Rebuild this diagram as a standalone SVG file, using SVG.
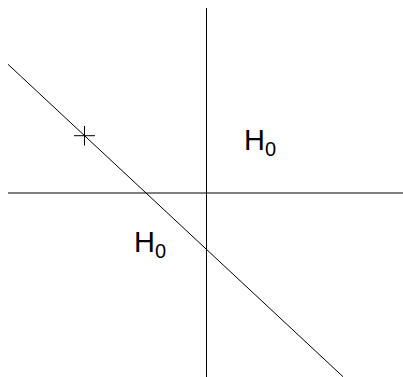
<svg xmlns="http://www.w3.org/2000/svg" width="403" height="377" viewBox="0 0 403 377">
<style>
.ln{stroke:#000;stroke-width:1;fill:none}
.lbl{font-family:"Liberation Sans",Arial,sans-serif;fill:#000}
.h{font-size:29px}
.s{font-size:20px}
</style>
<rect width="403" height="377" fill="#fff"/>
<g id="connectors">
<line class="ln" x1="206.5" y1="8" x2="206.5" y2="377"/>
<line class="ln" x1="8" y1="193" x2="403" y2="193"/>
<line class="ln" x1="8" y1="64.3" x2="343" y2="376.7"/>
</g>
<g id="marker">
<line class="ln" x1="74" y1="135.7" x2="95" y2="135.7"/>
<line class="ln" x1="84.5" y1="126" x2="84.5" y2="145.5"/>
</g>
<g id="label1">
<text class="lbl h" x="244" y="150">H</text>
<text class="lbl s" x="265" y="155.7">0</text>
</g>
<g id="label2">
<text class="lbl h" x="134" y="252.3">H</text>
<text class="lbl s" x="155" y="257.7">0</text>
</g>
</svg>
